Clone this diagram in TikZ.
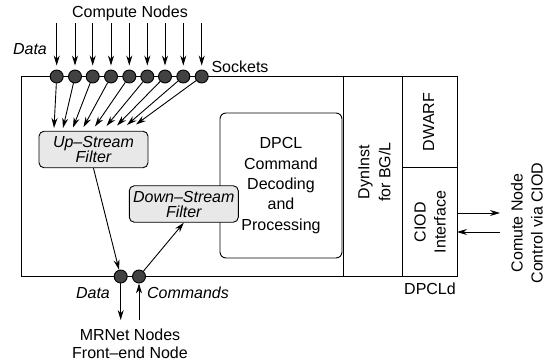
\documentclass[tikz,border=0pt]{standalone}
\usepackage{fontspec}
\setmainfont{Liberation Sans}
\usetikzlibrary{arrows.meta,calc}
\begin{document}
\begin{tikzpicture}[x=1pt,y=-1pt,
  every node/.style={font=\fontsize{16}{20}\selectfont, inner sep=0pt},
  ln/.style={line width=0.9pt},
  arr/.style={ln,-{Stealth[length=10pt,width=6pt]}},
  sock/.style={circle,draw,line width=0.9pt,fill=black!74,minimum size=13pt},
  filt/.style={draw,ln,rounded corners=5pt,fill=black!9,minimum width=109pt,minimum height=36.5pt,align=center,font=\fontsize{16}{15}\selectfont\itshape},
  lbl/.style={align=center}]
\useasboundingbox (0,0) rectangle (550,364);
% main frame and columns
\draw[ln] (21,76.5) rectangle (457,276.5);
\draw[ln] (343,76.5) -- (343,276.5);
\draw[ln] (402.7,76.5) -- (402.7,276.5);
\draw[ln] (402.7,167.7) -- (457,167.7);
% DPCL box
\node[draw,ln,rounded corners=6pt,minimum width=122pt,minimum height=145pt,align=center,font=\fontsize{16}{20.3}\selectfont] (dpcl) at (281,185.5) {DPCL\\Command\\Decoding\\and\\Processing};
\node[rotate=90,align=center,font=\fontsize{16}{21}\selectfont] (dyn) at (374.5,172) {DynInst\\for BG/L};
\node[rotate=90] (dwarf) at (428.5,122) {DWARF};
\node[rotate=90,align=center,font=\fontsize{16}{20}\selectfont] (ciod) at (430,222) {CIOD\\Interface};
\node (dpcld) at (430,289) {DPCLd};
% filters
\node[filt] (up) at (93.5,149.5) {Up--Stream\\Filter};
\node[filt] (down) at (183.8,204) {Down--Stream\\Filter};
% labels
\node (cn) at (130,13) {Compute Nodes};
\node[font=\fontsize{16}{20}\selectfont\itshape] (data1) at (30,49) {Data};
\node (sk) at (240,67) {Sockets};
% sockets and arrows
\foreach \i/\x/\ex/\ey in {1/56.7/54/128,2/75/63/128,3/92.7/73/127.5,4/111/83.5/127,5/129.3/95/126.5,6/147.3/106.5/126,7/165/117/125.5,8/183.3/127/125,9/201.7/136/124.5}{
  \coordinate (t\i) at (\x,23);
  \coordinate (e\i) at (\ex,\ey);
  \node[sock] (s\i) at (\x,76.5) {};
  \draw[arr,shorten >=4pt] (t\i) -- (s\i);
  \draw[arr] (s\i) -- (e\i);
}
% bottom sockets
\node[sock] (b1) at (120.7,276.5) {};
\node[sock] (b2) at (139,276.5) {};
\draw[arr] (up.south) -- (b1);
\draw[arr] (b2) -- (down.south);
\coordinate (d1) at (120.7,320);
\coordinate (c1) at (139,320);
\draw[arr] (b1) -- (d1);
\draw[arr] (c1) -- (b2);
\node[font=\fontsize{16}{20}\selectfont\itshape] (data2) at (93,293) {Data};
\node[font=\fontsize{16}{20}\selectfont\itshape] (cmd) at (188,293) {Commands};
\node[align=center,font=\fontsize{16}{18}\selectfont] (mr) at (130,344) {MRNet Nodes\\Front--end Node};
% right arrows
\coordinate (r1a) at (457,213);
\coordinate (r1b) at (500,213);
\coordinate (r2a) at (500,232);
\coordinate (r2b) at (457,232);
\draw[arr] (r1a) -- (r1b);
\draw[arr] (r2a) -- (r2b);
\node[rotate=90,align=center,font=\fontsize{16}{20}\selectfont] (cnc) at (527,223) {Comute Node\\Control via CIOD};
\end{tikzpicture}
\end{document}
